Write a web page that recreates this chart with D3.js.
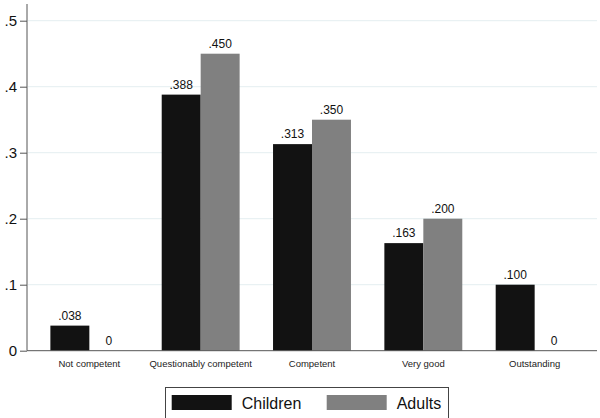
<!DOCTYPE html>
<html><head><meta charset="utf-8">
<script src="https://cdn.jsdelivr.net/npm/d3@7"></script>
<style>body{margin:0;background:#fff}svg{display:block;font-family:"Liberation Sans",Arial,Helvetica,sans-serif}</style>
</head><body><svg id="c" width="600" height="418"></svg>
<script>
const categories = ["Not competent","Questionably competent","Competent","Very good","Outstanding"];
const seriesNames = ["Children","Adults"];
const children = [0.038,0.388,0.313,0.163,0.100];
const adults = [0,0.450,0.350,0.200,0];
const valueLabelsChildren = [".038",".388",".313",".163",".100"];
const valueLabelsAdults = ["0",".450",".350",".200","0"];
const yTicks = [0,0.1,0.2,0.3,0.4,0.5];
const yTickLabels = ["0",".1",".2",".3",".4",".5"];
const colors = ["#121212","#808080"];

const svg = d3.select("#c");
const x0 = d3.scaleBand().domain(categories).range([27,597]).paddingInner(0.3).paddingOuter(0.21);
const x1 = d3.scaleBand().domain(seriesNames).range([0,x0.bandwidth()]);
const y = d3.scaleLinear().domain([0,0.5]).range([350.7,20.7]);

// gridlines
svg.append("g").selectAll("line").data(yTicks.filter(d=>d>0)).join("line")
  .attr("x1",28).attr("x2",597).attr("y1",d=>y(d)).attr("y2",d=>y(d))
  .attr("stroke","#e4eef0").attr("stroke-width",1);

const data = categories.map((c,i)=>({c, vals:[
  {s:"Children", v:children[i], lab:valueLabelsChildren[i]},
  {s:"Adults", v:adults[i], lab:valueLabelsAdults[i]}]}));

const g = svg.append("g").selectAll("g").data(data).join("g")
  .attr("transform",d=>`translate(${x0(d.c)},0)`);
g.selectAll("rect").data(d=>d.vals).join("rect")
  .attr("x",d=>x1(d.s)).attr("width",x1.bandwidth())
  .attr("y",d=>y(d.v)).attr("height",d=>y(0)-y(d.v))
  .attr("fill",(d,i)=>colors[i]);
g.selectAll("text").data(d=>d.vals).join("text")
  .attr("x",d=>x1(d.s)+x1.bandwidth()/2).attr("y",d=>y(d.v)-6)
  .attr("text-anchor","middle").attr("font-size",12).attr("fill","#111")
  .text(d=>d.lab);

// y axis
const yAxis = d3.axisLeft(y).tickValues(yTicks).tickFormat((d,i)=>yTickLabels[i]).tickSize(7).tickPadding(3);
const ya = svg.append("g").attr("transform","translate(27,0)").call(yAxis);
ya.select(".domain").attr("d","M0,4V350.7").attr("stroke","#555");
ya.selectAll(".tick line").attr("stroke","#555");
ya.selectAll(".tick text").attr("font-size",15).attr("fill","#111").attr("font-family","Liberation Sans, Arial, sans-serif");

// x axis
const xAxis = d3.axisBottom(x0).tickSize(0).tickPadding(10);
const xa = svg.append("g").attr("transform","translate(0,350.7)").call(xAxis);
xa.select(".domain").attr("d","M27,0H597").attr("stroke","#555");
xa.selectAll(".tick text").attr("font-size",9.5).attr("fill","#222").attr("font-family","Liberation Sans, Arial, sans-serif");

// legend
const lg = svg.append("g");
lg.append("rect").attr("x",165.5).attr("y",387.5).attr("width",283).attr("height",32)
  .attr("fill","#fff").attr("stroke","#444").attr("stroke-width",1);
const legX = [171.7,326.7];
seriesNames.forEach((s,i)=>{
  lg.append("rect").attr("x",legX[i]).attr("y",395).attr("width",60).attr("height",15).attr("fill",colors[i]);
  lg.append("text").attr("x",legX[i]+70).attr("y",408.5).attr("font-size",16).attr("fill","#111").text(s);
});
</script></body></html>
